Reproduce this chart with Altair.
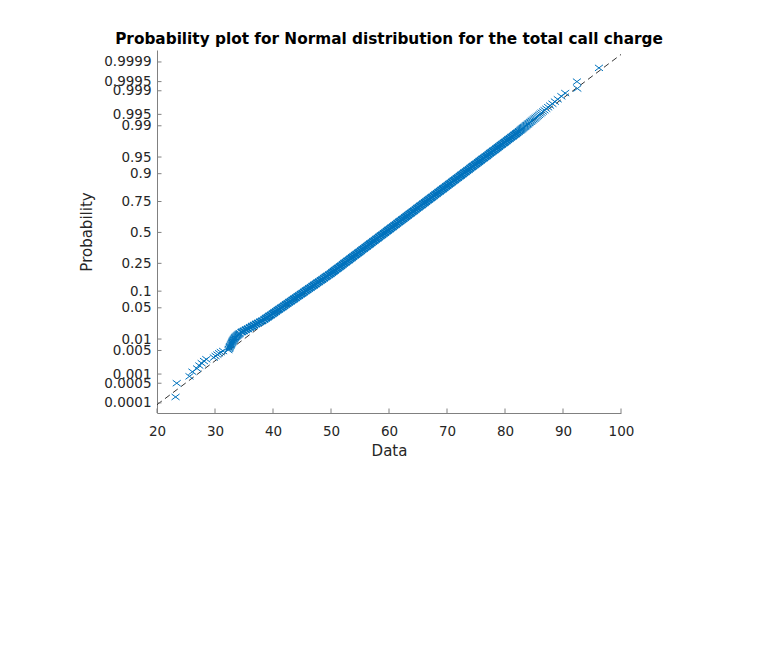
import altair as alt
import pandas as pd
from statistics import NormalDist

chart_title = "Probability plot for Normal distribution for the total call charge"

# Lower tail (individually visible markers): data value, normal score (probit of plotting position)
low_charge = [23.2, 23.4, 25.6, 26.1, 26.9, 27.3, 27.7, 28.1, 28.5, 29.8, 30.1, 30.4, 30.7, 31.0, 31.4,
              32.3, 32.4, 32.5, 32.55, 32.6, 32.7, 32.75, 32.8, 32.9, 32.95, 33.0, 33.05, 33.1, 33.2,
              33.25, 33.3, 33.4, 33.45, 33.5, 33.6, 33.7, 33.8, 33.9, 34.0, 34.1, 34.2, 34.3]
low_score = [-3.59, -3.29, -3.14, -3.04, -2.97, -2.905, -2.853, -2.807, -2.767, -2.731, -2.697, -2.666,
             -2.638, -2.612, -2.588, -2.565, -2.543, -2.522, -2.502, -2.484, -2.466, -2.448, -2.432,
             -2.416, -2.401, -2.386, -2.372, -2.358, -2.345, -2.333, -2.320, -2.308, -2.296, -2.285,
             -2.274, -2.263, -2.252, -2.242, -2.231, -2.221, -2.211, -2.201]

# Dense central band
mid_charge = [34.60, 34.95, 35.31, 35.66, 36.02, 36.38, 36.73, 37.09, 37.44, 37.80, 38.15, 38.51,
              38.79, 39.08, 39.36, 39.65, 39.94, 40.22, 40.51, 40.79, 41.07, 41.36, 41.65, 41.94,
              42.22, 42.50, 42.79, 43.07, 43.36, 43.65, 43.93, 44.22, 44.50, 44.79, 45.08, 45.36,
              45.64, 45.93, 46.21, 46.50, 46.79, 47.07, 47.36, 47.64, 47.92, 48.22, 48.50, 48.79,
              49.07, 49.35, 49.65, 49.93, 50.19, 50.45, 50.71, 50.97, 51.24, 51.50, 51.76, 52.02,
              52.28, 52.54, 52.81, 53.07, 53.33, 53.59, 53.85, 54.12, 54.38, 54.64, 54.90, 55.16,
              55.42, 55.69, 55.95, 56.21, 56.47, 56.73, 56.99, 57.26, 57.52, 57.78, 58.04, 58.30,
              58.56, 58.83, 59.09, 59.35, 59.61, 59.87, 60.14, 60.40, 60.66, 60.92, 61.18, 61.44,
              61.71, 61.97, 62.23, 62.49, 62.75, 63.01, 63.28, 63.54, 63.80, 64.06, 64.32, 64.59,
              64.85, 65.11, 65.37, 65.63, 65.89, 66.16, 66.42, 66.68, 66.94, 67.20, 67.46, 67.73,
              67.99, 68.25, 68.51, 68.77, 69.03, 69.30, 69.56, 69.82, 70.08, 70.34, 70.60, 70.87,
              71.13, 71.39, 71.65, 71.91, 72.18, 72.44, 72.70, 72.96, 73.22, 73.48, 73.75, 74.01,
              74.27, 74.53, 74.79, 75.06, 75.32, 75.58, 75.84, 76.10, 76.36, 76.63, 76.89, 77.15,
              77.41, 77.67, 77.93, 78.20, 78.46, 78.72, 78.98, 79.24, 79.50, 79.77, 80.03, 80.29,
              80.55, 80.81, 81.08, 81.34, 81.60, 81.86, 82.12, 82.38]
mid_score = [-2.175, -2.150, -2.125, -2.100, -2.075, -2.050, -2.025, -2.000, -1.975, -1.950, -1.925, -1.900,
             -1.875, -1.850, -1.825, -1.800, -1.775, -1.750, -1.725, -1.700, -1.675, -1.650, -1.625, -1.600,
             -1.575, -1.550, -1.525, -1.500, -1.475, -1.450, -1.425, -1.400, -1.375, -1.350, -1.325, -1.300,
             -1.275, -1.250, -1.225, -1.200, -1.175, -1.150, -1.125, -1.100, -1.075, -1.050, -1.025, -1.000,
             -0.975, -0.950, -0.925, -0.900, -0.875, -0.850, -0.825, -0.800, -0.775, -0.750, -0.725, -0.700,
             -0.675, -0.650, -0.625, -0.600, -0.575, -0.550, -0.525, -0.500, -0.475, -0.450, -0.425, -0.400,
             -0.375, -0.350, -0.325, -0.300, -0.275, -0.250, -0.225, -0.200, -0.175, -0.150, -0.125, -0.100,
             -0.075, -0.050, -0.025, 0.000, 0.025, 0.050, 0.075, 0.100, 0.125, 0.150, 0.175, 0.200,
             0.225, 0.250, 0.275, 0.300, 0.325, 0.350, 0.375, 0.400, 0.425, 0.450, 0.475, 0.500,
             0.525, 0.550, 0.575, 0.600, 0.625, 0.650, 0.675, 0.700, 0.725, 0.750, 0.775, 0.800,
             0.825, 0.850, 0.875, 0.900, 0.925, 0.950, 0.975, 1.000, 1.025, 1.050, 1.075, 1.100,
             1.125, 1.150, 1.175, 1.200, 1.225, 1.250, 1.275, 1.300, 1.325, 1.350, 1.375, 1.400,
             1.425, 1.450, 1.475, 1.500, 1.525, 1.550, 1.575, 1.600, 1.625, 1.650, 1.675, 1.700,
             1.725, 1.750, 1.775, 1.800, 1.825, 1.850, 1.875, 1.900, 1.925, 1.950, 1.975, 2.000,
             2.025, 2.050, 2.075, 2.100, 2.125, 2.150, 2.175, 2.200]

# Upper tail
high_charge = [82.58, 82.68, 82.78, 82.88, 82.98, 83.09, 83.19, 83.30, 83.41, 83.53, 83.66, 83.77,
               83.90, 84.02, 84.16, 84.31, 84.45, 84.60, 84.75, 84.93, 85.10, 85.27, 85.47, 85.67,
               85.87, 86.09, 86.31, 86.56, 86.82, 87.12, 87.44, 87.78, 88.17, 88.60, 89.10, 89.72,
               90.38, 92.47, 92.4, 96.2]
high_score = [2.221, 2.231, 2.242, 2.252, 2.263, 2.274, 2.285, 2.296, 2.308, 2.320, 2.333, 2.345,
              2.358, 2.372, 2.386, 2.401, 2.416, 2.432, 2.448, 2.466, 2.484, 2.502, 2.522, 2.543,
              2.565, 2.588, 2.612, 2.638, 2.666, 2.697, 2.731, 2.767, 2.807, 2.853, 2.905, 2.97,
              3.04, 3.14, 3.29, 3.59]

prob_ticks = [0.0001, 0.0005, 0.001, 0.005, 0.01, 0.05, 0.1, 0.25, 0.5, 0.75, 0.9, 0.95,
              0.99, 0.995, 0.999, 0.9995, 0.9999]
x_ticks = [20, 30, 40, 50, 60, 70, 80, 90, 100]

# Reference line (fitted normal)
ref_mean = 59.35
ref_std = 10.47
ref_x = [20, 100]

nd = NormalDist()
prob_tick_z = [nd.inv_cdf(p) for p in prob_ticks]

tails = pd.DataFrame({"Data": low_charge + high_charge, "z": low_score + high_score})
band = pd.DataFrame({"Data": mid_charge, "z": mid_score})
ref = pd.DataFrame({"Data": ref_x})
ytk = pd.DataFrame({"z": prob_tick_z})
xtk = pd.DataFrame({"Data": x_ticks})

FONT = "DejaVu Sans"
AX = "#808080"
TXT = "#262626"
BLUE = "#0072BD"
W, H = 464, 363

xscale = alt.Scale(domain=[20, 100], nice=False, zero=False)
yscale = alt.Scale(domain=[-3.94, 3.98], nice=False, zero=False)

xaxis = alt.Axis(values=x_ticks, ticks=False, labelFlush=False, labelOverlap=False,
                 title="Data", domainColor=AX, domainWidth=1, grid=False,
                 labelFont=FONT, labelFontSize=13.5, labelColor=TXT, labelPadding=11,
                 titleFont=FONT, titleFontSize=15, titleFontWeight="normal", titleColor=TXT,
                 titleBaseline="alphabetic", titleY=42)
yaxis = alt.Axis(values=prob_tick_z, ticks=False, labelFlush=False, labelOverlap=False,
                 labelExpr="format(cumulativeNormal(datum.value), '.4~f')",
                 title="Probability", domainColor=AX, domainWidth=1, grid=False,
                 labelFont=FONT, labelFontSize=13.5, labelColor=TXT, labelPadding=6,
                 titleFont=FONT, titleFontSize=15, titleFontWeight="normal", titleColor=TXT,
                 titleBaseline="alphabetic", titleX=-66, titleY=H / 2)

xmark = "M-1,-0.75L1,0.75M1,-0.75L-1,0.75"
enc = dict(x=alt.X("Data:Q", scale=xscale, axis=xaxis), y=alt.Y("z:Q", scale=yscale, axis=yaxis))

tail_pts = alt.Chart(tails).mark_point(shape=xmark, filled=False, size=64, strokeWidth=1,
                                       color=BLUE, opacity=1).encode(**enc)
band_pts = alt.Chart(band).mark_point(shape=xmark, filled=False, size=64, strokeWidth=1.9,
                                      color=BLUE, opacity=1).encode(**enc)

refline = alt.Chart(ref).transform_calculate(
    z=f"(datum.Data - {ref_mean}) / {ref_std}"
).mark_line(color="black", strokeWidth=0.8, strokeDash=[6, 4]).encode(**enc)

yticks = alt.Chart(ytk).mark_rule(color=AX, strokeWidth=1).encode(
    y=alt.Y("z:Q", scale=yscale, axis=yaxis),
    x=alt.value(0), x2=alt.value(4.5),
)
xticks = alt.Chart(xtk).mark_rule(color=AX, strokeWidth=1).encode(
    x=alt.X("Data:Q", scale=xscale, axis=xaxis),
    y=alt.value(H), y2=alt.value(H - 4.5),
)

chart = alt.layer(refline, band_pts, tail_pts, yticks, xticks).properties(
    width=W, height=H,
    title=alt.TitleParams(chart_title, font=FONT, fontSize=15.3, fontWeight="bold",
                          color="black", anchor="middle", offset=3),
    autosize=alt.AutoSizeParams(type="none"),
    padding={"left": 157, "top": 50, "right": 138, "bottom": 237},
    background="white",
).configure_view(stroke="transparent")

chart.save("out.html", embed_options={"renderer": "svg", "actions": False})
